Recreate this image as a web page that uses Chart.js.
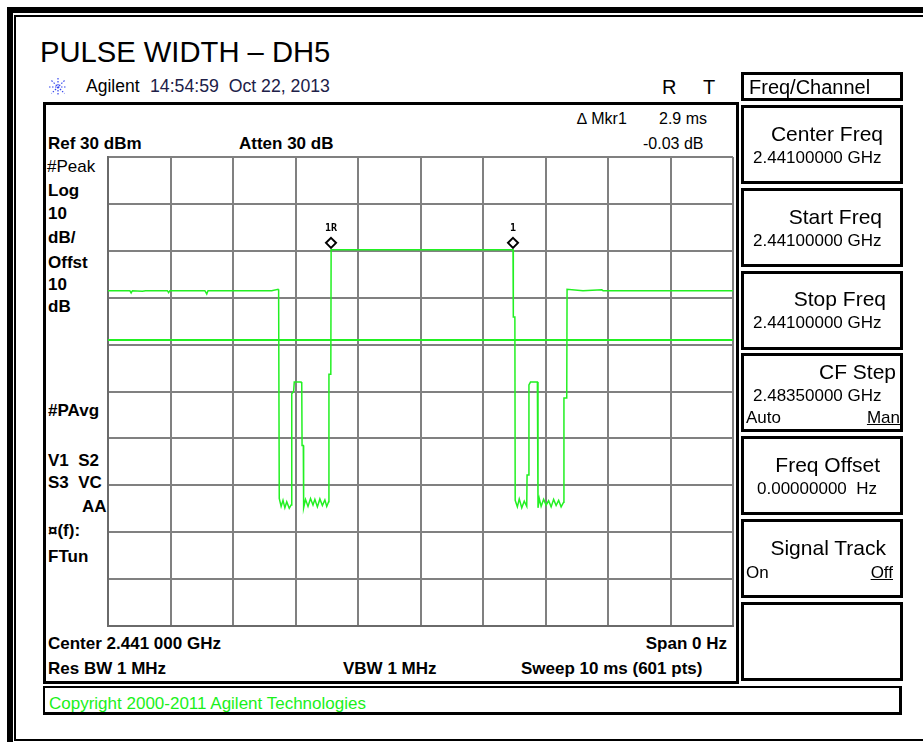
<!DOCTYPE html>
<html>
<head>
<meta charset="utf-8">
<script src="https://cdn.jsdelivr.net/npm/chart.js@4"></script>
<style>
  html, body { margin: 0; padding: 0; background: #fff; }
  body { width: 923px; height: 742px; position: relative; overflow: hidden;
         font-family: "Liberation Sans", Arial, sans-serif; color: #000; }
  .abs { position: absolute; white-space: pre; line-height: 1; }
  .b { font-weight: bold; }
  #frameOuter { position: absolute; left: 7px; top: 7px; width: 940px; height: 740px;
                border-left: 6px solid #000; border-top: 6px solid #000; }
  #frameInner { position: absolute; left: 14px; top: 15px; width: 940px; height: 722px;
                border-left: 2px solid #000; border-top: 2px solid #000; border-bottom: 2px solid #000; }
  #screen { position: absolute; left: 43px; top: 102px; width: 690px; height: 576px;
            border: 3px solid #000; }
  .key { position: absolute; left: 741px; width: 156px; border: 3px solid #000; background: #fff; }
  #copy { position: absolute; left: 43px; top: 686px; width: 854px; height: 24px;
          border: 3px solid #000; border-top-width: 2px; border-left-width: 2px; }
  #chartBox { position: absolute; left: 104px; top: 153px; }
</style>
</head>
<body>
<div id="frameOuter"></div>
<div id="frameInner"></div>

<div class="abs" style="left:40px; top:38px; font-size:29.2px;">PULSE WIDTH – DH5</div>

<svg class="abs" style="left:48px; top:77px;" width="20" height="20" viewBox="0 0 20 20">
  <g stroke="#3344ee" stroke-width="1.2" stroke-dasharray="1.5 1.5">
    <line x1="10" y1="1" x2="10" y2="19"/>
    <line x1="1" y1="10" x2="19" y2="10"/>
    <line x1="3.5" y1="3.5" x2="16.5" y2="16.5"/>
    <line x1="16.5" y1="3.5" x2="3.5" y2="16.5"/>
  </g>
</svg>
<div class="abs" style="left:86px; top:78px; font-size:17.5px;">Agilent</div>
<div class="abs" style="left:150px; top:78px; font-size:17.7px; color:#202048;">14:54:59  Oct 22, 2013</div>
<div class="abs" style="left:662px; top:77px; font-size:20px;">R</div>
<div class="abs" style="left:703px; top:77px; font-size:20px;">T</div>

<div id="screen"></div>
<div class="abs" style="left:577px; top:111px; font-size:16px;">∆ Mkr1</div>
<div class="abs" style="left:659px; top:111px; font-size:16px;">2.9 ms</div>
<div class="abs" style="left:643px; top:136px; font-size:16px;">-0.03 dB</div>
<div class="abs b" style="left:48px; top:135px; font-size:17px;">Ref 30 dBm</div>
<div class="abs b" style="left:239px; top:135px; font-size:17px;">Atten 30 dB</div>

<div class="abs" style="left:47px; top:158px; font-size:17px;">#Peak</div>
<div class="abs b" style="left:48px; top:182px; font-size:17px;">Log</div>
<div class="abs b" style="left:48px; top:205px; font-size:17px;">10</div>
<div class="abs b" style="left:48px; top:229px; font-size:17px;">dB/</div>
<div class="abs b" style="left:48px; top:254px; font-size:17px;">Offst</div>
<div class="abs b" style="left:48px; top:276px; font-size:17px;">10</div>
<div class="abs b" style="left:48px; top:298px; font-size:17px;">dB</div>
<div class="abs b" style="left:48px; top:402px; font-size:17px;">#PAvg</div>
<div class="abs b" style="left:48px; top:452px; font-size:17px;">V1  S2</div>
<div class="abs b" style="left:48px; top:474px; font-size:17px;">S3  VC</div>
<div class="abs b" style="left:82px; top:498px; font-size:17px;">AA</div>
<div class="abs b" style="left:48px; top:522px; font-size:17px;">¤(f):</div>
<div class="abs b" style="left:48px; top:548px; font-size:17px;">FTun</div>

<div id="chartBox"><canvas id="spectrumChart" width="633" height="477"></canvas></div>

<div class="abs b" style="left:48px; top:635px; font-size:17px;">Center 2.441 000 GHz</div>
<div class="abs b" style="left:600px; width:127px; text-align:right; top:635px; font-size:17px;">Span 0 Hz</div>
<div class="abs b" style="left:48px; top:660px; font-size:17px;">Res BW 1 MHz</div>
<div class="abs b" style="left:343px; top:660px; font-size:17px;">VBW 1 MHz</div>
<div class="abs b" style="left:521px; top:660px; font-size:17px;">Sweep 10 ms (601 pts)</div>

<div id="copy"></div>
<div class="abs" style="left:49px; top:695px; font-size:17px; color:#1af01a;">Copyright 2000-2011 Agilent Technologies</div>

<div class="key" style="top:72px; height:23px;"></div>
<div class="abs" style="left:749px; top:77px; font-size:20px;">Freq/Channel</div>

<div class="key" style="top:105px; height:73px;"></div>
<div class="abs" style="left:700px; width:183px; text-align:right; top:123px; font-size:21px;">Center Freq</div>
<div class="abs" style="left:753px; top:149px; font-size:17px;">2.44100000 GHz</div>

<div class="key" style="top:188px; height:73px;"></div>
<div class="abs" style="left:700px; width:182px; text-align:right; top:206px; font-size:21px;">Start Freq</div>
<div class="abs" style="left:753px; top:232px; font-size:17px;">2.44100000 GHz</div>

<div class="key" style="top:271px; height:73px;"></div>
<div class="abs" style="left:700px; width:186px; text-align:right; top:288px; font-size:21px;">Stop Freq</div>
<div class="abs" style="left:753px; top:314px; font-size:17px;">2.44100000 GHz</div>

<div class="key" style="top:353px; height:73px;"></div>
<div class="abs" style="left:700px; width:196px; text-align:right; top:361px; font-size:21px;">CF Step</div>
<div class="abs" style="left:753px; top:387px; font-size:17px;">2.48350000 GHz</div>
<div class="abs" style="left:746px; top:409px; font-size:17px;">Auto</div>
<div class="abs" style="left:800px; width:100px; text-align:right; top:409px; font-size:17px; text-decoration:underline;">Man</div>

<div class="key" style="top:436px; height:73px;"></div>
<div class="abs" style="left:700px; width:180px; text-align:right; top:454px; font-size:21px;">Freq Offset</div>
<div class="abs" style="left:757px; top:480px; font-size:17px;">0.00000000  Hz</div>

<div class="key" style="top:519px; height:73px;"></div>
<div class="abs" style="left:700px; width:186px; text-align:right; top:537px; font-size:21px;">Signal Track</div>
<div class="abs" style="left:746px; top:564px; font-size:17px;">On</div>
<div class="abs" style="left:800px; width:93px; text-align:right; top:564px; font-size:17px; text-decoration:underline;">Off</div>

<div class="key" style="top:602px; height:73px;"></div>

<script>
// sweep time (ms) and trace level (dBm)
const traceTime = [
  0.00, 0.35, 0.37, 0.39, 0.55, 0.60, 0.95, 0.97, 0.99, 1.55, 1.58, 1.60, 2.62, 2.72, 2.73,
  2.74, 2.77, 2.80, 2.83, 2.86, 2.90, 2.93,
  2.94, 2.97, 2.98, 3.09, 3.10, 3.105, 3.125,
  3.13, 3.16, 3.20, 3.24, 3.28, 3.31, 3.35, 3.39, 3.43, 3.47, 3.50, 3.53,
  3.535, 3.565, 3.57, 6.48, 6.485, 6.51,
  6.515, 6.55, 6.58, 6.62, 6.66, 6.70,
  6.705, 6.73, 6.735, 6.76, 6.87,
  6.88, 6.90, 6.93, 6.97, 7.01, 7.05, 7.09, 7.13, 7.17, 7.21, 7.25, 7.29,
  7.295, 7.34, 7.345, 7.60, 7.90, 7.92, 8.50, 10.00
];
const traceLevel = [
  1.5, 1.5, 1.0, 1.5, 1.4, 1.5, 1.5, 1.1, 1.5, 1.5, 0.8, 1.5, 1.5, 1.8, 1.5,
  -42.8, -44.5, -43.2, -44.8, -43.5, -44.9, -44.2,
  -20.5, -20.0, -18.0, -18.0, -18.3, -31.5, -31.5,
  -44.8, -43.0, -44.5, -42.8, -44.2, -43.0, -44.6, -42.9, -44.3, -43.1, -44.5, -43.5,
  -16.3, -16.3, 10.2, 10.2, -4.1, -4.1,
  -43.2, -44.6, -42.9, -44.8, -43.4, -44.5,
  -37.8, -37.8, -18.6, -18.0, -18.0,
  -44.8, -42.8, -44.5, -43.0, -44.2, -43.3, -44.6, -43.0, -44.3, -43.2, -44.6, -43.6,
  -21.4, -21.4, 1.8, 1.5, 1.7, 1.5, 1.5, 1.5
];

// display line
const displayLineTime = [0, 10];
const displayLineLevel = [-9, -9];

// markers
const markerTime = [3.568, 6.48];
const markerLevel = [10.2, 10.2];
const markerLabel = ["1R", "1"];

const traceColor = "#22f022";

const markerPlugin = {
  id: "markers",
  afterDatasetsDraw(chart) {
    const ctx = chart.ctx;
    const xs = chart.scales.x;
    const ys = chart.scales.y;
    ctx.save();
    for (let i = 0; i < markerTime.length; i++) {
      const px = xs.getPixelForValue(markerTime[i]);
      const py = ys.getPixelForValue(markerLevel[i]) - 7;
      ctx.beginPath();
      ctx.moveTo(px, py - 5);
      ctx.lineTo(px + 5, py);
      ctx.lineTo(px, py + 5);
      ctx.lineTo(px - 5, py);
      ctx.closePath();
      ctx.fillStyle = "#fff";
      ctx.fill();
      ctx.lineWidth = 2;
      ctx.strokeStyle = "#000";
      ctx.stroke();
      ctx.fillStyle = "#000";
      ctx.font = "bold 10px 'DejaVu Sans Mono', monospace";
      ctx.textAlign = "center";
      ctx.textBaseline = "bottom";
      ctx.fillText(markerLabel[i], px, py - 9);
    }
    ctx.restore();
  },
};

const ctx = document.getElementById("spectrumChart").getContext("2d");
new Chart(ctx, {
  type: "scatter",
  data: {
    datasets: [
      {
        label: "Display line",
        data: displayLineTime.map((t, i) => ({ x: t, y: displayLineLevel[i] })),
        showLine: true,
        borderColor: traceColor,
        borderWidth: 2,
        pointRadius: 0,
      },
      {
        label: "Trace",
        data: traceTime.map((t, i) => ({ x: t, y: traceLevel[i] })),
        showLine: true,
        borderColor: traceColor,
        borderWidth: 1.5,
        pointRadius: 0,
        tension: 0,
      },
    ],
  },
  options: {
    responsive: false,
    animation: false,
    devicePixelRatio: 1,
    layout: { padding: 4 },
    plugins: { legend: { display: false }, tooltip: { enabled: false } },
    scales: {
      x: {
        type: "linear",
        min: 0,
        max: 10,
        ticks: { display: false, stepSize: 1 },
        grid: { color: "#808080", lineWidth: 2, drawTicks: false },
        border: { display: true, color: "#6a6a6a", width: 2 },
      },
      y: {
        type: "linear",
        min: -70,
        max: 30,
        ticks: { display: false, stepSize: 10 },
        grid: { color: "#808080", lineWidth: 2, drawTicks: false },
        border: { display: true, color: "#6a6a6a", width: 2 },
      },
    },
  },
  plugins: [markerPlugin],
});
</script>
</body>
</html>
